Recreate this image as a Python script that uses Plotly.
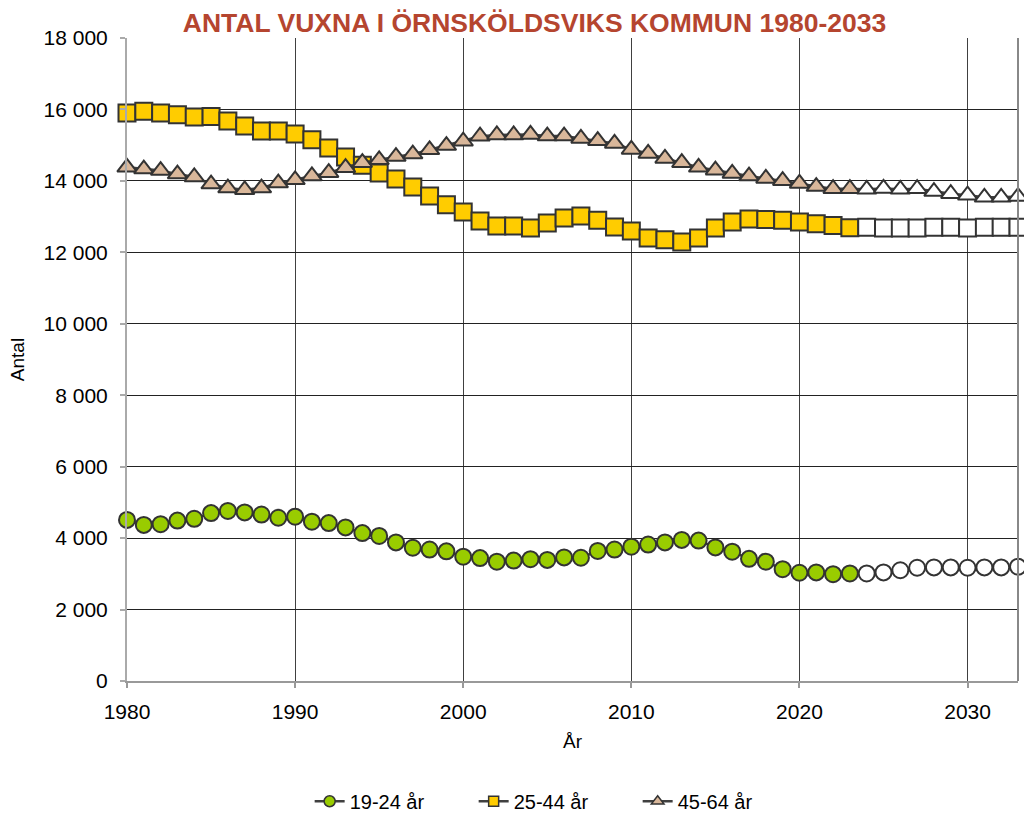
import plotly.graph_objects as go

years = list(range(1980, 2034))
last_actual = 2023

age_19_24 = [4510, 4370, 4390, 4490, 4540, 4700, 4760, 4720, 4660, 4570,
             4600, 4460, 4420, 4300, 4140, 4060, 3880, 3730, 3680, 3630,
             3480, 3440, 3340, 3370, 3410, 3390, 3460, 3450, 3640, 3680,
             3760, 3820, 3880, 3950, 3930, 3740, 3620, 3420, 3340, 3130,
             3030, 3040, 2990, 3010, 3010, 3040, 3100, 3170, 3180, 3180,
             3170, 3180, 3180, 3200]
age_25_44 = [15900, 15950, 15900, 15850, 15790, 15800, 15680, 15540, 15400, 15400,
             15310, 15150, 14920, 14670, 14440, 14220, 14050, 13830, 13580, 13330,
             13130, 12880, 12740, 12740, 12680, 12820, 12960, 13020, 12900, 12710,
             12600, 12400, 12350, 12290, 12400, 12680, 12850, 12930, 12920, 12900,
             12850, 12800, 12750, 12690, 12700, 12680, 12680, 12680, 12700, 12700,
             12680, 12700, 12700, 12700]
age_45_64 = [14380, 14330, 14290, 14190, 14110, 13910, 13800, 13750, 13800, 13940,
             14030, 14140, 14230, 14370, 14510, 14590, 14680, 14750, 14870, 14990,
             15110, 15250, 15285, 15285, 15300, 15255, 15255, 15190, 15125, 15050,
             14880, 14770, 14630, 14510, 14380, 14300, 14210, 14135, 14070, 14005,
             13930, 13840, 13780, 13780, 13765, 13790, 13765, 13780, 13700, 13640,
             13600, 13540, 13540, 13560]

series_names = ["19-24 år", "25-44 år", "45-64 år"]
series_values = [age_19_24, age_25_44, age_45_64]
series_colors = ["#99CC00", "#FFCC00", "#D9B79A"]
series_symbols = ["circle", "square", "triangle-up"]
series_sizes = [16, 17, 17]
legend_sizes = [11, 10, 11]

y_tickvals = list(range(0, 18001, 2000))
y_ticktext = [f"{v:,}".replace(",", " ") for v in y_tickvals]
x_tickvals = list(range(1980, 2031, 10))

FONT = "Liberation Sans, Arial, sans-serif"

fig = go.Figure()
for name, vals, col, sym, sz in zip(series_names, series_values, series_colors,
                                    series_symbols, series_sizes):
    colors = [col if y <= last_actual else "#FFFFFF" for y in years]
    fig.add_trace(go.Scatter(
        x=years, y=vals, name=name, mode="lines+markers", showlegend=False,
        line=dict(color="#404040", width=2.5),
        marker=dict(symbol=sym, size=sz, color=colors,
                    line=dict(color="#333333", width=2)),
        cliponaxis=False,
    ))
# legend entries (same styling, smaller symbols as in the reference legend)
for name, col, sym, sz in zip(series_names, series_colors, series_symbols, legend_sizes):
    fig.add_trace(go.Scatter(
        x=[None], y=[None], name=name, mode="lines+markers",
        line=dict(color="#404040", width=2.5),
        marker=dict(symbol=sym, size=sz, color=col,
                    line=dict(color="#333333", width=1.5)),
    ))

fig.update_layout(
    width=1024, height=813,
    paper_bgcolor="white", plot_bgcolor="white",
    margin=dict(l=127, r=6, t=38, b=132, autoexpand=False),
    title=dict(text="<b>ANTAL VUXNA I ÖRNSKÖLDSVIKS KOMMUN 1980-2033</b>",
               x=0.522, xanchor="center", y=0.9725, yanchor="middle",
               font=dict(family="Liberation Sans Narrow, Arial Narrow, sans-serif",
                         size=26.5, color="#B5452F")),
    font=dict(family=FONT, size=19, color="#000000"),
    legend=dict(orientation="h", x=0.205, xanchor="left", y=-0.187, yanchor="middle",
                font=dict(size=20), entrywidth=119, entrywidthmode="pixels",
                tracegroupgap=0),
    showlegend=True,
)
fig.update_xaxes(
    range=[1980, 2033], tickvals=x_tickvals, showgrid=True, automargin=False,
    gridcolor="#404040", gridwidth=1, showline=True, linecolor="#999999",
    linewidth=2, mirror=False, zeroline=False, ticks="outside", ticklen=5,
    tickcolor="#999999", tickwidth=2, ticklabelstandoff=6,
    title=dict(text="År", font=dict(size=19), standoff=12),
    tickfont=dict(size=21),
)
fig.update_yaxes(
    range=[0, 18000], tickvals=y_tickvals, ticktext=y_ticktext, showgrid=True,
    automargin=False,
    gridcolor="#222222", gridwidth=1, showline=True, linecolor="#AAAAAA",
    linewidth=2, zeroline=False, ticks="outside", ticklen=5, tickcolor="#AAAAAA",
    tickwidth=2, ticklabelstandoff=8,
    title=dict(text="Antal", font=dict(size=19), standoff=14),
    tickfont=dict(size=21),
)
fig.add_shape(type="line", xref="paper", yref="paper", x0=1, x1=1, y0=0, y1=1,
              line=dict(color="#888888", width=2))

fig.write_html(
    "out.html",
    config={"displayModeBar": False},
    post_script="document.body.style.margin='0';document.body.style.overflow='hidden';",
)
